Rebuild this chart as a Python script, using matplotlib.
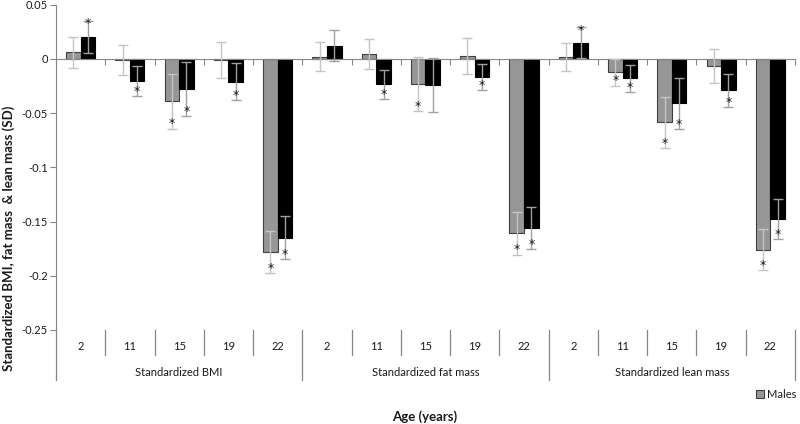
import matplotlib
matplotlib.use("Agg")
import matplotlib.pyplot as plt
import matplotlib.transforms as mtransforms
from matplotlib.patches import Patch

# dados
grupos = ['Standardized BMI', 'Standardized fat mass', 'Standardized lean mass']
idades = ['2', '11', '15', '19', '22']

homens = [0.006, -0.001, -0.039, -0.001, -0.178,
          0.002, 0.0045, -0.023, 0.0025, -0.161,
          0.002, -0.0123, -0.0586, -0.0068, -0.176]
homens_err = [0.014, 0.0137, 0.0255, 0.0167, 0.0195,
              0.0136, 0.0135, 0.025, 0.0165, 0.0195,
              0.013, 0.0125, 0.0237, 0.0156, 0.019]
mulheres = [0.0204, -0.0204, -0.0281, -0.021, -0.1648,
            0.0123, -0.0235, -0.024, -0.017, -0.156,
            0.0151, -0.0179, -0.041, -0.029, -0.1478]
mulheres_err = [0.0148, 0.014, 0.025, 0.017, 0.0198,
                0.014, 0.0135, 0.025, 0.012, 0.0197,
                0.014, 0.0125, 0.0236, 0.0155, 0.0185]

# asteriscos (significancia)
homens_sig = [0, 0, 1, 0, 1, 0, 0, 1, 0, 1, 0, 1, 1, 0, 1]
mulheres_sig = [1, 1, 1, 1, 1, 0, 1, 0, 1, 1, 1, 1, 1, 1, 1]

yticks = [0.05, 0, -0.05, -0.1, -0.15, -0.2, -0.25]
ytick_labels = ['0.05', '0', '-0.05', '-0.1', '-0.15', '-0.2', '-0.25']

plt.rcParams['font.family'] = ['Lato', 'DejaVu Sans']
cinza_eixo = '#868686'
cor_texto = '#1a1a1a'

W, H = 800, 424
fig = plt.figure(figsize=(W / 100, H / 100), dpi=100)
x0, x1, ytop, ybot = 56, 795, 4.7, 330
ax = fig.add_axes([x0 / W, 1 - ybot / H, (x1 - x0) / W, (ybot - ytop) / H])

n = len(homens)
pos = [i + 0.5 for i in range(n)]
larg = 0.295

ax.bar([p - larg / 2 for p in pos], homens, width=larg, color='#969696',
       edgecolor='#404040', linewidth=0.8, zorder=2)
ax.bar([p + larg / 2 for p in pos], mulheres, width=larg, color='black',
       edgecolor='black', linewidth=0.8, zorder=2)
ax.errorbar([p - larg / 2 for p in pos], homens, yerr=homens_err, fmt='none',
            ecolor='#c4c4c4', elinewidth=1, capsize=3.5, capthick=1, zorder=3)
ax.errorbar([p + larg / 2 for p in pos], mulheres, yerr=mulheres_err, fmt='none',
            ecolor='#a0a0a0', elinewidth=1, capsize=3.5, capthick=1, zorder=3)

# asteriscos na ponta das barras de erro
for serie, erros, sig, desloc in [(homens, homens_err, homens_sig, -larg / 2),
                                  (mulheres, mulheres_err, mulheres_sig, larg / 2)]:
    for i in range(n):
        if not sig[i]:
            continue
        v = serie[i]
        if v >= 0:
            y = v + erros[i]
            off = -2
        else:
            y = v - erros[i]
            off = 3.5
        ax.annotate('*', (pos[i] + desloc, y), xytext=(0, off), textcoords='offset points',
                    ha='center', va='center', fontsize=9, family='DejaVu Sans',
                    color=cor_texto, zorder=4)

ax.set_xlim(0, n)
ax.set_ylim(-0.25, 0.05)
ax.set_yticks(yticks)
ax.set_yticklabels(ytick_labels)
ax.tick_params(axis='y', length=4, color=cinza_eixo, labelsize=8, labelcolor=cor_texto, pad=2)

for s in ['top', 'right']:
    ax.spines[s].set_visible(False)
ax.spines['left'].set_color(cinza_eixo)
ax.spines['bottom'].set_position(('data', 0))
ax.spines['bottom'].set_color(cinza_eixo)
ax.set_xticks(range(n + 1))
ax.tick_params(axis='x', length=4, color=cinza_eixo, labelbottom=False)

# eixo de categorias em dois niveis
trans = mtransforms.blended_transform_factory(ax.transData, ax.transAxes)
alt = ybot - ytop
for k in range(n + 1):
    fundo = 50 if k % 5 == 0 else 25
    ax.plot([k, k], [0, -fundo / alt], transform=trans, color=cinza_eixo,
            linewidth=0.9, clip_on=False)
for i in range(n):
    ax.text(pos[i], -17 / alt, idades[i % 5], transform=trans, ha='center', va='center',
            fontsize=8, color=cor_texto)
for g, nome in enumerate(grupos):
    ax.text(g * 5 + 2.5, -43 / alt, nome, transform=trans, ha='center', va='center',
            fontsize=8, color=cor_texto)

fig.text(9 / W, 1 - 238 / H, 'Standardized BMI, fat mass  & lean mass (SD)', rotation=90,
         ha='center', va='center', fontsize=9.5, fontweight='bold', color=cor_texto)
fig.text(425 / W, 1 - 417 / H, 'Age (years)', ha='center', va='center',
         fontsize=9.5, fontweight='bold', color=cor_texto)

handles = [Patch(facecolor='#969696', edgecolor='#404040', linewidth=0.8)]
fig.legend(handles, ['Males'], loc='center left',
           bbox_to_anchor=(756 / W, 1 - 394 / H), frameon=False,
           handlelength=0.7, handleheight=0.7, handletextpad=0.3,
           fontsize=8, borderpad=0, borderaxespad=0, labelcolor=cor_texto)

fig.savefig('out.png', dpi=100)
plt.close(fig)
